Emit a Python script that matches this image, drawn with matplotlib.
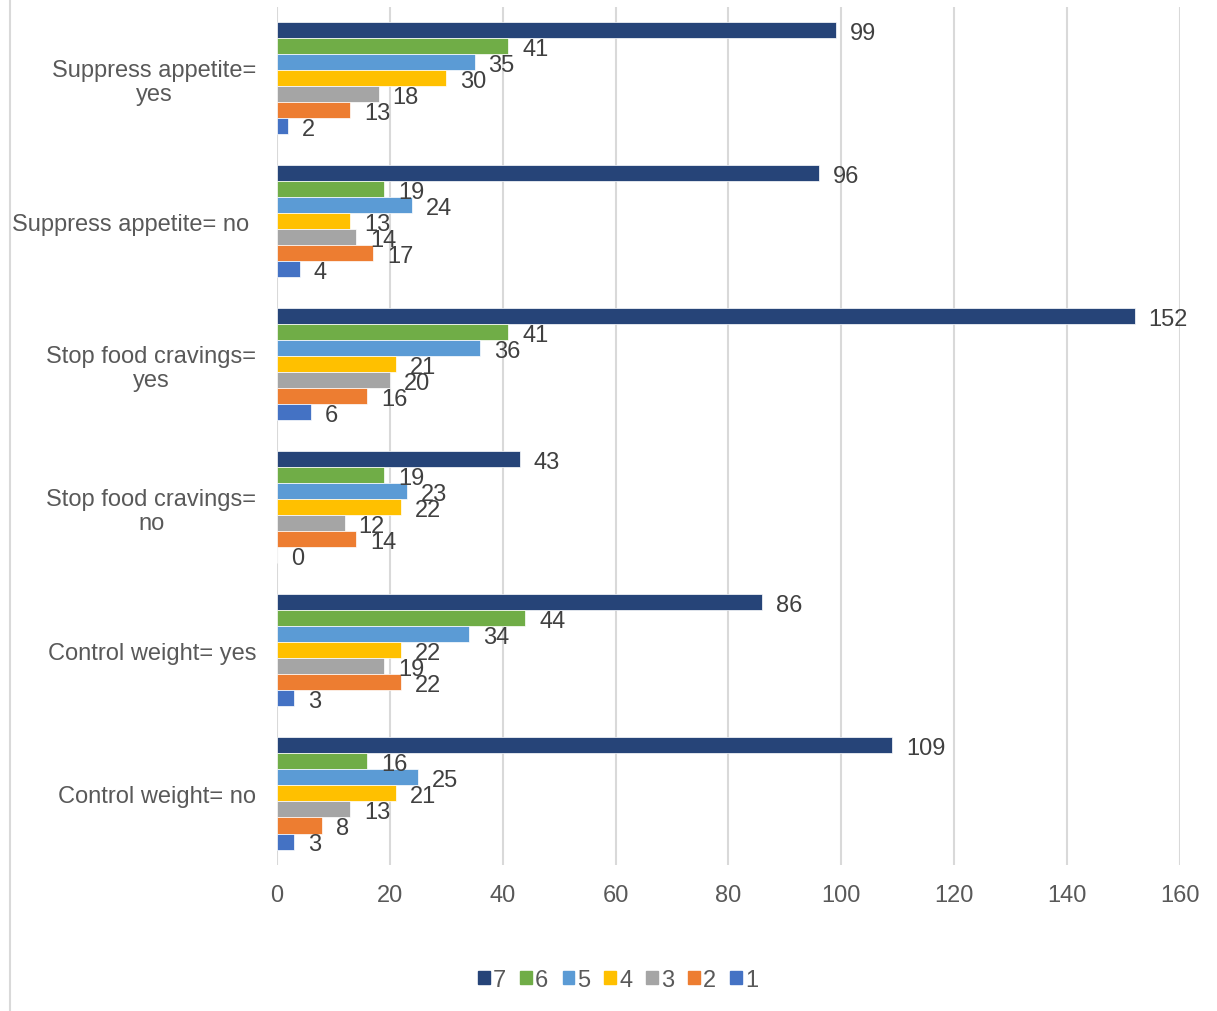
import numpy as np
import matplotlib
matplotlib.use("Agg")
import matplotlib.pyplot as plt
from matplotlib.lines import Line2D

plt.rcParams['font.family'] = ['Liberation Sans', 'DejaVu Sans']

categories = ["Suppress appetite=\nyes", "Suppress appetite= no ", "Stop food cravings=\nyes",
              "Stop food cravings=\nno", "Control weight= yes", "Control weight= no"]
series = ["7", "6", "5", "4", "3", "2", "1"]
colors = ["#264478", "#70AD47", "#5B9BD5", "#FFC000", "#A5A5A5", "#ED7D31", "#4472C4"]

# rows: series 7..1, columns: categories top to bottom
s7 = [99, 96, 152, 43, 86, 109]
s6 = [41, 19, 41, 19, 44, 16]
s5 = [35, 24, 36, 23, 34, 25]
s4 = [30, 13, 21, 22, 22, 21]
s3 = [18, 14, 20, 12, 19, 13]
s2 = [13, 17, 16, 14, 22, 8]
s1 = [2, 4, 6, 0, 3, 3]
values = [s7, s6, s5, s4, s3, s2, s1]

FS = 17

fig = plt.figure(figsize=(12.17, 10.12), dpi=100)
ax = fig.add_axes([0.2276, 0.1443, 0.742, 0.848])

n_cat = len(categories)
bar_h = 0.112
y_base = np.arange(n_cat)[::-1].astype(float)
for k, (name, vals, col) in enumerate(zip(series, values, colors)):
    offset = (3 - k) * bar_h
    ys = y_base + offset
    bars = ax.barh(ys, vals, height=bar_h, color=col, edgecolor="white",
                   linewidth=0.5, label=name)
    for b, v in zip(bars, vals):
        ax.annotate(str(v), (b.get_width(), b.get_y() + b.get_height() / 2),
                    xytext=(10, -2), textcoords="offset points",
                    ha="left", va="center", fontsize=FS, color="#404040")

ax.set_xlim(0, 160)
ax.set_ylim(-0.5, n_cat - 0.5)
ax.set_xticks(np.arange(0, 161, 20))
ax.set_yticks(y_base)
ax.set_yticklabels(categories, multialignment="center", linespacing=1.1)
ax.tick_params(axis="both", length=0, labelsize=FS, labelcolor="#595959")
ax.tick_params(axis="x", pad=14)
ax.tick_params(axis="y", pad=15)
ax.xaxis.grid(True, color="#d9d9d9", linewidth=1.5)
ax.set_axisbelow(True)
for sp in ax.spines.values():
    sp.set_visible(False)

handles = [plt.Rectangle((0, 0), 1, 1, color=c) for c in colors]
fig.legend(handles, series, loc="center", bbox_to_anchor=(0.508, 0.031), ncol=7,
           frameon=False, fontsize=FS, handlelength=0.5, handleheight=0.5,
           handletextpad=0.12, columnspacing=0.6, labelcolor="#595959")

# light frame edge on the left side of the figure
fig.add_artist(Line2D([10 / 1217, 10 / 1217], [0, 1], transform=fig.transFigure,
                      color="#d9d9d9", linewidth=1.5))

fig.savefig("out.png", dpi=100, facecolor="white")
